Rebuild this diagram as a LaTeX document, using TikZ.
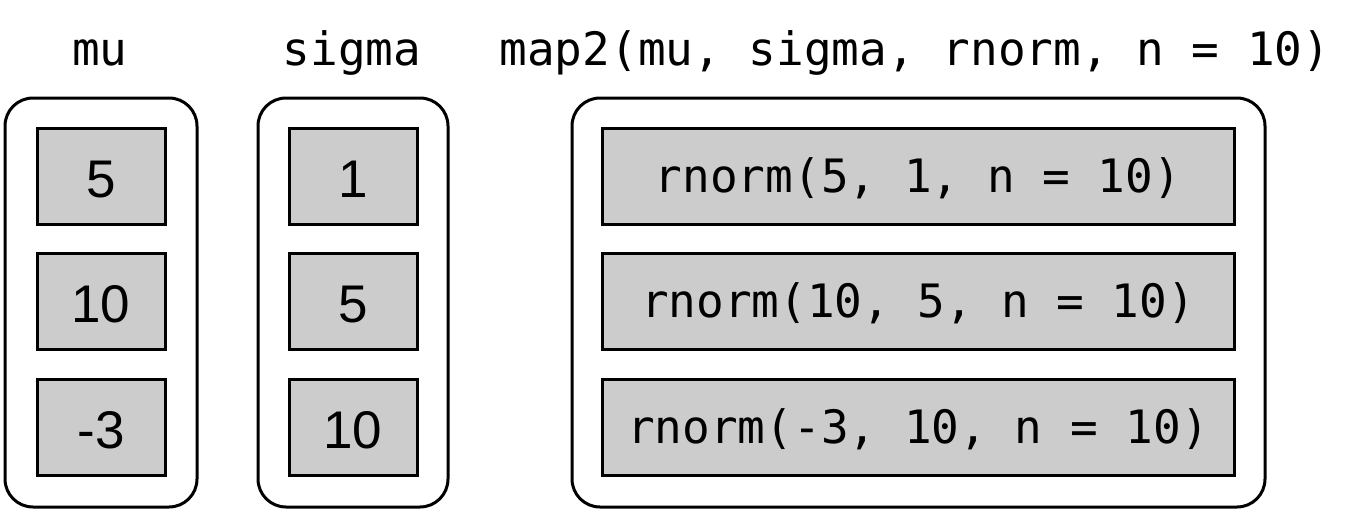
\documentclass[tikz,border=0pt]{standalone}
\usepackage{fontspec}
\setmainfont{Liberation Sans}
\newfontfamily\codefont{DejaVu Sans Mono}
\definecolor{cellgray}{HTML}{CCCCCC}
\begin{document}
\begin{tikzpicture}[x=1pt,y=-1pt,
  outerbox/.style={draw=black, line width=3pt, rounded corners=28pt, minimum height=409pt, inner sep=0pt},
  cell/.style={draw=black, fill=cellgray, line width=3pt, minimum height=96pt, inner sep=0pt},
  numtext/.style={font=\fontsize{53}{60}\selectfont, text height=42pt, text depth=0pt},
  codetext/.style={font=\codefont\fontsize{46}{54}\selectfont, text height=32pt, text depth=0pt},
  title/.style={font=\codefont\fontsize{46}{54}\selectfont, anchor=base}]
\useasboundingbox (0,0) rectangle (1358,512);
% titles
\node[title] (tmu) at (100,65) {mu};
\node[title] (tsigma) at (352,65) {sigma};
\node[title] (tmap) at (915,65) {map2(mu, sigma, rnorm, n = 10)};
% outer boxes
\node[outerbox, minimum width=192pt] (omu) at (101,302.5) {};
\node[outerbox, minimum width=190pt] (osig) at (353,302.5) {};
\node[outerbox, minimum width=693pt] (omap) at (918.5,302.5) {};
% mu cells
\node[cell, numtext, minimum width=128pt] (m1) at (101,176) {5};
\node[cell, numtext, minimum width=128pt] (m2) at (101,301) {10};
\node[cell, numtext, minimum width=128pt] (m3) at (101,427) {-3};
% sigma cells
\node[cell, numtext, minimum width=128pt] (s1) at (353,176) {1};
\node[cell, numtext, minimum width=128pt] (s2) at (353,301) {5};
\node[cell, numtext, minimum width=128pt] (s3) at (353,427) {10};
% result cells
\node[cell, codetext, minimum width=632pt] (r1) at (918,176) {rnorm(5, 1, n = 10)};
\node[cell, codetext, minimum width=632pt] (r2) at (918,301) {rnorm(10, 5, n = 10)};
\node[cell, codetext, minimum width=632pt] (r3) at (918,427) {rnorm(-3, 10, n = 10)};
\end{tikzpicture}
\end{document}
